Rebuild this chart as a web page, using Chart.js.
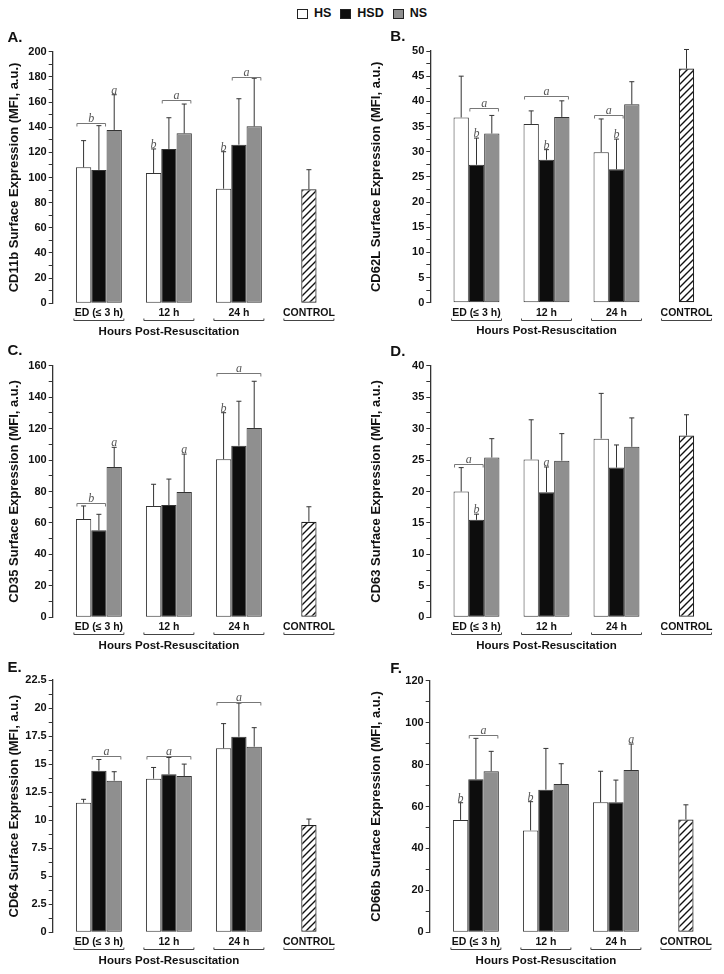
<!DOCTYPE html>
<html>
<head>
<meta charset="utf-8">
<script src="https://cdn.jsdelivr.net/npm/chart.js@4.4.0/dist/chart.umd.min.js"></script>
<style>
  body { margin: 0; background: #fff; }
  #page { position: relative; width: 724px; height: 974px; font-family: 'Liberation Sans', Arial, sans-serif; }
  #legend { position: absolute; top: 6px; left: 0; width: 724px; display: flex; justify-content: center; align-items: center;
            font-weight: bold; font-size: 12.5px; line-height: 15px; color: #111; }
  #legend .item { display: flex; align-items: center; margin: 0 4.5px; }
  #legend .key { display: inline-block; width: 11px; height: 10px; border: 1px solid #222; box-sizing: border-box; margin-right: 6px; }
  canvas { position: absolute; }
</style>
</head>
<body>
<div id="page">
  <div id="legend">
    <span class="item"><span class="key" style="background:#fff"></span>HS</span>
    <span class="item"><span class="key" style="background:#0d0d0d"></span>HSD</span>
    <span class="item"><span class="key" style="background:#8f8f8f"></span>NS</span>
  </div>
  <canvas id="cA"></canvas>
  <canvas id="cB"></canvas>
  <canvas id="cC"></canvas>
  <canvas id="cD"></canvas>
  <canvas id="cE"></canvas>
  <canvas id="cF"></canvas>
</div>
<script>
// ---- data ----
const groups = ['ED (≤ 3 h)', '12 h', '24 h', 'CONTROL'];
const seriesNames = ['HS', 'HSD', 'NS'];
const markers = ['CD11b', 'CD62L', 'CD35', 'CD63', 'CD64', 'CD66b'];
const panelLetters = ['A.', 'B.', 'C.', 'D.', 'E.', 'F.'];
const yMax = [200, 50, 160, 40, 22.5, 120];
const yStep = [20, 5, 20, 5, 2.5, 20];

// A. CD11b (mean, SD)
const cd11bHS = [108.1, 103.6, 91.1];
const cd11bHSD = [106.0, 122.7, 126.1];
const cd11bNS = [137.8, 135.1, 140.7];
const cd11bHSsd = [21.2, 19.1, 29.4];
const cd11bHSDsd = [35.2, 24.8, 36.5];
const cd11bNSsd = [28.0, 23.3, 38.2];
const cd11bCtrl = [90.6, 15.6];
const cd11bMarks = [
    { letter: 'b', group: 0, from: 0, to: 1, y: 143.3 },
    { letter: 'a', group: 0, on: 2 },
    { letter: 'b', group: 1, on: 0 },
    { letter: 'a', group: 1, from: 1, to: 2, y: 161.5 },
    { letter: 'b', group: 2, on: 0 },
    { letter: 'a', group: 2, from: 1, to: 2, y: 179.6 }
];

// B. CD62L
const cd62lHS = [36.8, 35.5, 29.9];
const cd62lHSD = [27.4, 28.4, 26.5];
const cd62lNS = [33.6, 36.9, 39.4];
const cd62lHSsd = [8.2, 2.6, 6.6];
const cd62lHSDsd = [5.3, 2.0, 6.0];
const cd62lNSsd = [3.6, 3.2, 4.5];
const cd62lCtrl = [46.5, 3.8];
const cd62lMarks = [
    { letter: 'a', group: 0, from: 1, to: 2, y: 38.7 },
    { letter: 'b', group: 0, on: 1 },
    { letter: 'a', group: 1, from: 0, to: 2, y: 41.1 },
    { letter: 'b', group: 1, on: 1 },
    { letter: 'a', group: 2, from: 0, to: 1, y: 37.2 },
    { letter: 'b', group: 2, on: 1 }
];

// C. CD35
const cd35HS = [62.5, 70.8, 100.5];
const cd35HSD = [55.3, 71.4, 109.1];
const cd35NS = [95.6, 79.7, 120.4];
const cd35HSsd = [8.3, 13.8, 29.6];
const cd35HSDsd = [10.2, 16.5, 28.3];
const cd35NSsd = [12.5, 24.1, 29.7];
const cd35Ctrl = [60.8, 9.5];
const cd35Marks = [
    { letter: 'b', group: 0, from: 0, to: 1, y: 72.7 },
    { letter: 'a', group: 0, on: 2 },
    { letter: 'a', group: 1, on: 2 },
    { letter: 'a', group: 2, from: 0, to: 2, y: 155.2 },
    { letter: 'b', group: 2, on: 0 }
];

// D. CD63
const cd63HS = [20.0, 25.1, 28.4];
const cd63HSD = [15.5, 19.9, 23.8];
const cd63NS = [25.4, 24.9, 27.1];
const cd63HSsd = [3.8, 6.3, 7.2];
const cd63HSDsd = [0.9, 4.0, 3.6];
const cd63NSsd = [3.0, 4.3, 4.6];
const cd63Ctrl = [28.9, 3.3];
const cd63Marks = [
    { letter: 'a', group: 0, from: 0, to: 1, y: 24.4 },
    { letter: 'b', group: 0, on: 1 },
    { letter: 'a', group: 1, on: 1 }
];

// E. CD64
const cd64HS = [11.56, 13.70, 16.41];
const cd64HSD = [14.41, 14.09, 17.44];
const cd64NS = [13.52, 13.94, 16.55];
const cd64HSsd = [0.3, 1.0, 2.2];
const cd64HSDsd = [1.0, 1.5, 3.0];
const cd64NSsd = [0.8, 1.06, 1.7];
const cd64Ctrl = [9.57, 0.53];
const cd64Marks = [
    { letter: 'a', group: 0, from: 1, to: 2, y: 15.75 },
    { letter: 'a', group: 1, from: 0, to: 2, y: 15.75 },
    { letter: 'a', group: 2, from: 0, to: 2, y: 20.56 }
];

// F. CD66b
const cd66bHS = [53.6, 48.6, 62.0];
const cd66bHSD = [73.0, 68.0, 62.0];
const cd66bNS = [76.8, 70.7, 77.4];
const cd66bHSsd = [8.2, 13.7, 14.8];
const cd66bHSDsd = [19.5, 19.7, 10.6];
const cd66bNSsd = [9.5, 9.7, 12.4];
const cd66bCtrl = [53.8, 7.0];
const cd66bMarks = [
    { letter: 'b', group: 0, on: 0 },
    { letter: 'a', group: 0, from: 1, to: 2, y: 93.9 },
    { letter: 'b', group: 1, on: 0 },
    { letter: 'a', group: 2, on: 2 }
];

const panelData = [
    { means: [cd11bHS, cd11bHSD, cd11bNS], sds: [cd11bHSsd, cd11bHSDsd, cd11bNSsd], ctrl: cd11bCtrl, marks: cd11bMarks },
    { means: [cd62lHS, cd62lHSD, cd62lNS], sds: [cd62lHSsd, cd62lHSDsd, cd62lNSsd], ctrl: cd62lCtrl, marks: cd62lMarks },
    { means: [cd35HS, cd35HSD, cd35NS], sds: [cd35HSsd, cd35HSDsd, cd35NSsd], ctrl: cd35Ctrl, marks: cd35Marks },
    { means: [cd63HS, cd63HSD, cd63NS], sds: [cd63HSsd, cd63HSDsd, cd63NSsd], ctrl: cd63Ctrl, marks: cd63Marks },
    { means: [cd64HS, cd64HSD, cd64NS], sds: [cd64HSsd, cd64HSDsd, cd64NSsd], ctrl: cd64Ctrl, marks: cd64Marks },
    { means: [cd66bHS, cd66bHSD, cd66bNS], sds: [cd66bHSsd, cd66bHSDsd, cd66bNSsd], ctrl: cd66bCtrl, marks: cd66bMarks }
];

// ---- layout (page pixels) ----
const layout = [
    { left: 0,   top: 24,  h: 316, axis: 52.7, areaTop: 51.7,  areaBottom: 303.3, letterX: 7.5,  letterY: 41.7 },
    { left: 362, top: 24,  h: 316, axis: 68.3, areaTop: 51.0,  areaBottom: 302.7, letterX: 28.3, letterY: 40.5 },
    { left: 0,   top: 340, h: 316, axis: 52.7, areaTop: 365.7, areaBottom: 617.3, letterX: 7.5,  letterY: 355 },
    { left: 362, top: 340, h: 316, axis: 68.3, areaTop: 365.7, areaBottom: 617.3, letterX: 28.3, letterY: 356 },
    { left: 0,   top: 656, h: 318, axis: 52.7, areaTop: 680,   areaBottom: 932.3, letterX: 7.5,  letterY: 672 },
    { left: 362, top: 656, h: 318, axis: 67.7, areaTop: 680.7, areaBottom: 932.3, letterX: 28.3, letterY: 673 }
];
const PANEL_W = 362, GROUP_GAP = 70, X_MIN = -0.66, X_MAX = 3.5;
const FONT = "'Liberation Sans', Arial, sans-serif";
const barColors = ['#ffffff', '#0d0d0d', '#8f8f8f'];

Chart.defaults.font.family = FONT;

// diagonal hatch for the control bar
function makeHatch() {
    const c = document.createElement('canvas');
    c.width = 7; c.height = 7;
    const g = c.getContext('2d');
    g.fillStyle = '#fff';
    g.fillRect(0, 0, 7, 7);
    g.strokeStyle = '#111';
    g.lineWidth = 1.4;
    g.beginPath();
    g.moveTo(-1, 8); g.lineTo(8, -1);
    g.moveTo(-1, 1); g.lineTo(1, -1);
    g.moveTo(6, 8); g.lineTo(8, 6);
    g.stroke();
    return g.createPattern(c, 'repeat');
}
const hatch = makeHatch();

// error bars, significance marks, group brackets, x title, panel letter
const decorPlugin = {
    id: 'decor',
    afterDatasetsDraw(chart) {
        const ctx = chart.ctx, y = chart.scales.y;
        ctx.save();
        ctx.strokeStyle = '#333';
        ctx.lineWidth = 1;
        chart.data.datasets.forEach((ds, i) => {
            chart.getDatasetMeta(i).data.forEach((bar, j) => {
                const v = ds.data[j].y, sd = ds.sd[j];
                if (v == null || sd == null) return;
                const top = y.getPixelForValue(v + sd);
                ctx.beginPath();
                ctx.moveTo(bar.x, bar.y);
                ctx.lineTo(bar.x, top);
                ctx.moveTo(bar.x - 2.5, top);
                ctx.lineTo(bar.x + 2.5, top);
                ctx.stroke();
            });
        });
        ctx.restore();
    },
    afterDraw(chart, args, opts) {
        const ctx = chart.ctx, x = chart.scales.x, y = chart.scales.y, area = chart.chartArea;
        ctx.save();

        // significance letters and brackets
        ctx.font = 'italic 12px "Liberation Serif", "Times New Roman", serif';
        ctx.fillStyle = '#555';
        ctx.strokeStyle = '#777';
        ctx.lineWidth = 1;
        ctx.textAlign = 'center';
        ctx.textBaseline = 'alphabetic';
        opts.marks.forEach(m => {
            if (m.on !== undefined) {
                const ds = chart.data.datasets[m.on];
                const bar = chart.getDatasetMeta(m.on).data[m.group];
                const top = y.getPixelForValue(ds.data[m.group].y + ds.sd[m.group]);
                ctx.fillText(m.letter, bar.x, top - 1);
            } else {
                const b1 = chart.getDatasetMeta(m.from).data[m.group];
                const b2 = chart.getDatasetMeta(m.to).data[m.group];
                const x1 = b1.x - b1.width / 2 + 1, x2 = b2.x + b2.width / 2 - 1;
                const yy = Math.round(y.getPixelForValue(m.y)) + 0.5;
                ctx.beginPath();
                ctx.moveTo(x1, yy + 3); ctx.lineTo(x1, yy); ctx.lineTo(x2, yy); ctx.lineTo(x2, yy + 3);
                ctx.stroke();
                ctx.fillText(m.letter, (x1 + x2) / 2, yy - 2);
            }
        });

        // brackets under the group labels
        ctx.strokeStyle = '#444';
        const by = Math.round(area.bottom + 17) + 0.5;
        groups.forEach((g, i) => {
            const c = x.getPixelForValue(i);
            ctx.beginPath();
            ctx.moveTo(c - 25, by - 2); ctx.lineTo(c - 25, by); ctx.lineTo(c + 25, by); ctx.lineTo(c + 25, by - 2);
            ctx.stroke();
        });

        // x title centred over the time groups
        ctx.fillStyle = '#111';
        ctx.font = 'bold 11.5px ' + FONT;
        ctx.textBaseline = 'middle';
        ctx.fillText('Hours Post-Resuscitation', x.getPixelForValue(1), area.bottom + 28.5);

        // panel letter
        ctx.font = 'bold 15px ' + FONT;
        ctx.textAlign = 'left';
        ctx.textBaseline = 'alphabetic';
        ctx.fillText(opts.letter, opts.letterX, opts.letterY);
        ctx.restore();
    }
};

function makePanel(k) {
    const L = layout[k], d = panelData[k];
    const canvas = document.getElementById('c' + panelLetters[k][0]);
    canvas.width = PANEL_W;
    canvas.height = L.h;
    canvas.style.left = L.left + 'px';
    canvas.style.top = L.top + 'px';
    canvas.style.width = PANEL_W + 'px';
    canvas.style.height = L.h + 'px';

    const padTop = L.areaTop - L.top;
    const xHeight = L.top + L.h - L.areaBottom;
    const padRight = PANEL_W - (L.axis + GROUP_GAP * (X_MAX - X_MIN));
    const step = yStep[k];

    const datasets = seriesNames.map((name, s) => ({
        label: name,
        data: d.means[s].map((v, i) => ({ x: i, y: v })).concat([{ x: 3, y: null }]),
        sd: d.sds[s].concat([null]),
        backgroundColor: barColors[s],
        borderColor: '#333',
        borderWidth: 1,
        borderSkipped: false,
        categoryPercentage: 0.656,
        barPercentage: 1,
        skipNull: true
    }));
    datasets.push({
        label: 'CONTROL',
        data: [{ x: 0, y: null }, { x: 1, y: null }, { x: 2, y: null }, { x: 3, y: d.ctrl[0] }],
        sd: [null, null, null, d.ctrl[1]],
        backgroundColor: hatch,
        borderColor: '#222',
        borderWidth: 1.2,
        borderSkipped: false,
        categoryPercentage: 0.656,
        barPercentage: 1 / 3,
        skipNull: true
    });

    return new Chart(canvas, {
        type: 'bar',
        data: { datasets },
        options: {
            responsive: false,
            animation: false,
            events: [],
            layout: { padding: { top: padTop, left: 0, right: padRight, bottom: 0 } },
            plugins: {
                legend: { display: false },
                tooltip: { enabled: false },
                decor: { letter: panelLetters[k], letterX: L.letterX, letterY: L.letterY - L.top, marks: d.marks }
            },
            scales: {
                x: {
                    type: 'linear',
                    min: X_MIN,
                    max: X_MAX,
                    offset: false,
                    bounds: 'data',
                    afterBuildTicks: sc => { sc.ticks = groups.map((g, i) => ({ value: i })); },
                    afterFit: sc => { sc.height = xHeight; },
                    ticks: {
                        autoSkip: false,
                        maxRotation: 0,
                        padding: 4,
                        color: '#111',
                        font: { size: 10.5, weight: 'bold' },
                        callback: v => groups[v]
                    },
                    grid: { display: false, drawTicks: false },
                    border: { display: false }
                },
                y: {
                    min: 0,
                    max: yMax[k],
                    afterFit: sc => { sc.width = L.axis; },
                    ticks: {
                        stepSize: step / 2,
                        autoSkip: false,
                        padding: 2,
                        color: '#111',
                        font: { size: 11, weight: 'bold' },
                        callback: v => {
                            const r = v / step;
                            return Math.abs(r - Math.round(r)) < 1e-6 ? String(+v.toFixed(2)) : '';
                        }
                    },
                    grid: { display: true, drawOnChartArea: false, drawTicks: true, tickLength: 4, tickColor: '#333', color: '#333' },
                    border: { display: true, color: '#333', width: 1.3 },
                    title: {
                        display: true,
                        text: markers[k] + ' Surface Expression (MFI, a.u.)',
                        color: '#111',
                        font: { size: 13, weight: 'bold' },
                        padding: { top: 7, bottom: 0 }
                    }
                }
            }
        },
        plugins: [decorPlugin]
    });
}

for (let k = 0; k < 6; k++) makePanel(k);
</script>
</body>
</html>
